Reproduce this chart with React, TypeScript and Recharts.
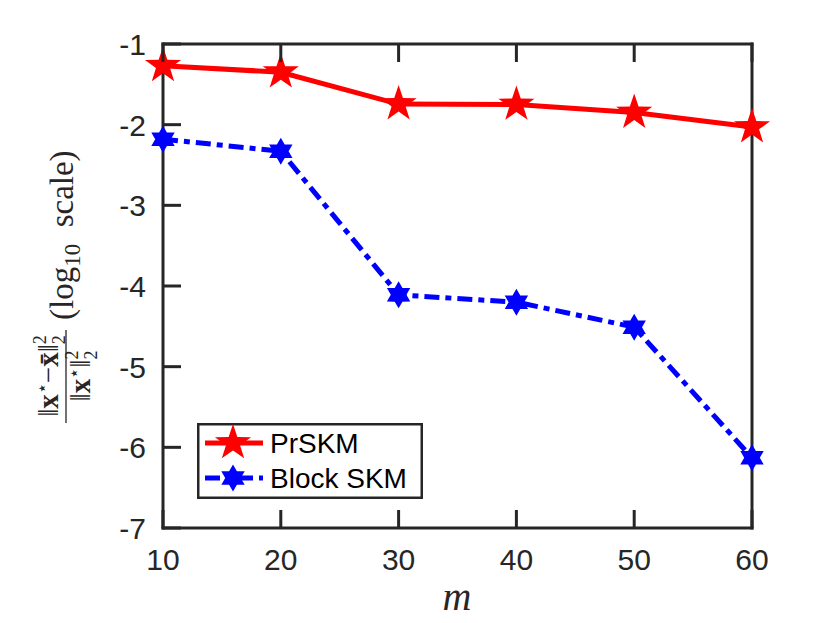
import { Legend, Line, LineChart, XAxis, YAxis } from 'recharts';

const mValues = [10, 20, 30, 40, 50, 60];
const prskmErr = [-1.27, -1.35, -1.745, -1.75, -1.85, -2.03];
const blockSkmErr = [-2.18, -2.33, -4.11, -4.2, -4.51, -6.13];
const xTicks = [10, 20, 30, 40, 50, 60];
const yTicks = [-7, -6, -5, -4, -3, -2, -1];

const data = mValues.map((m, i) => ({
	m,
	prskm: prskmErr[i],
	block: blockSkmErr[i],
}));

const AXIS = '#262626';
const TICK_LEN = 18;
const SANS = "'Liberation Sans', Arial, Helvetica, sans-serif";
const SERIF = "'Liberation Serif', 'Times New Roman', serif";

const series = [
	{ key: 'prskm', name: 'PrSKM', color: '#ff0000', dash: undefined, shape: 'star' },
	{ key: 'block', name: 'Block SKM', color: '#0000ff', dash: '15 6 6 6', shape: 'hexagram' },
];

// n-pointed star polygon, point up
const starPoints = (cx: number, cy: number, n: number, outer: number, inner: number) => {
	const pts: string[] = [];
	for (let i = 0; i < 2 * n; i++) {
		const r = i % 2 === 0 ? outer : inner;
		const a = -Math.PI / 2 + (i * Math.PI) / n;
		pts.push(`${cx + r * Math.cos(a)},${cy + r * Math.sin(a)}`);
	}
	return pts.join(' ');
};

const Marker = ({ cx, cy, shape, color }: any) =>
	shape === 'star' ? (
		<polygon points={starPoints(cx, cy, 5, 19, 7.4)} fill={color} />
	) : (
		<polygon points={starPoints(cx, cy, 6, 13.5, 7.8)} fill={color} />
	);

const BottomTick = ({ x, y, payload }: any) => (
	<g>
		<line x1={x} y1={y} x2={x} y2={y - TICK_LEN} stroke={AXIS} strokeWidth={3} />
		<text x={x} y={y + 42} textAnchor='middle' fontSize={30} fill={AXIS} fontFamily={SANS}>
			{payload.value}
		</text>
	</g>
);

const TopTick = ({ x, y }: any) => (
	<line x1={x} y1={y} x2={x} y2={y + TICK_LEN} stroke={AXIS} strokeWidth={3} />
);

const LeftTick = ({ x, y, payload }: any) => (
	<g>
		<line x1={x} y1={y} x2={x + TICK_LEN} y2={y} stroke={AXIS} strokeWidth={3} />
		<text x={x - 17} y={y + 11} textAnchor='end' fontSize={30} fill={AXIS} fontFamily={SANS}>
			{payload.value}
		</text>
	</g>
);

const RightTick = ({ x, y }: any) => (
	<line x1={x} y1={y} x2={x - TICK_LEN} y2={y} stroke={AXIS} strokeWidth={3} />
);

const YLabel = () => (
	<g transform='rotate(-90)' fill={AXIS} fontFamily={SERIF}>
		<text x={-376} y={58} textAnchor='middle' fontSize={29}>
			‖<tspan fontWeight='bold'>x</tspan>
			<tspan dy={-10} fontSize={18}>⋆</tspan>
			<tspan dy={10}>−</tspan>
			<tspan fontWeight='bold'>x̄</tspan>‖
			<tspan dy={-12} fontSize={18}>2</tspan>
			<tspan dx={-9} dy={19} fontSize={18}>2</tspan>
		</text>
		<line x1={-423} x2={-330} y1={66} y2={66} stroke={AXIS} strokeWidth={1.3} />
		<text x={-376} y={90} textAnchor='middle' fontSize={29}>
			‖<tspan fontWeight='bold'>x</tspan>
			<tspan dy={-10} fontSize={18}>⋆</tspan>
			<tspan dy={10}>‖</tspan>
			<tspan dy={-12} fontSize={18}>2</tspan>
			<tspan dx={-9} dy={19} fontSize={18}>2</tspan>
		</text>
		<text x={-320} y={73} fontSize={33}>
			(log
			<tspan dy={7} fontSize={23}>10</tspan>
			<tspan dy={-7}>{'\u00a0\u00a0scale)'}</tspan>
		</text>
	</g>
);

const XLabel = () => (
	<text x={457} y={610} textAnchor='middle' fontSize={40} fontStyle='italic' fill={AXIS} fontFamily={SERIF}>
		m
	</text>
);

const LegendBox = () => (
	<svg width={226} height={76} style={{ display: 'block' }}>
		<rect x={1.25} y={1.25} width={223.5} height={73.5} fill='#fff' stroke={AXIS} strokeWidth={2.5} />
		{series.map((s, i) => {
			const cy = 20 + i * 35;
			return (
				<g key={s.key}>
					<line x1={8} x2={66} y1={cy} y2={cy} stroke={s.color} strokeWidth={5} strokeDasharray={s.dash} />
					<Marker cx={36} cy={cy} shape={s.shape} color={s.color} />
					<text x={73} y={cy + 10} fontSize={28} fill='#000' fontFamily={SANS}>
						{s.name}
					</text>
				</g>
			);
		})}
	</svg>
);

const axisLine = { stroke: AXIS, strokeWidth: 3, strokeLinecap: 'square' as const };

export default function App() {
	return (
		<div style={{ position: 'absolute', left: 0, top: 0, width: 830, height: 623, background: '#fff' }}>
			<LineChart
				width={830}
				height={623}
				data={data}
				margin={{ top: 43, right: 77, bottom: 35, left: 83 }}
			>
				<XAxis
					dataKey='m'
					type='number'
					domain={[10, 60]}
					ticks={xTicks}
					interval={0}
					height={60}
					tickSize={0}
					tickMargin={0}
					tickLine={false}
					axisLine={axisLine}
					tick={BottomTick}
					label={<XLabel />}
				/>
				<XAxis
					xAxisId='top'
					orientation='top'
					dataKey='m'
					type='number'
					domain={[10, 60]}
					ticks={xTicks}
					interval={0}
					height={1}
					tickSize={0}
					tickMargin={0}
					tickLine={false}
					axisLine={axisLine}
					tick={TopTick}
				/>
				<YAxis
					type='number'
					domain={[-7, -1]}
					ticks={yTicks}
					interval={0}
					width={80}
					tickSize={0}
					tickMargin={0}
					tickLine={false}
					axisLine={axisLine}
					tick={LeftTick}
					label={<YLabel />}
				/>
				<YAxis
					yAxisId='right'
					orientation='right'
					type='number'
					domain={[-7, -1]}
					ticks={yTicks}
					interval={0}
					width={1}
					tickSize={0}
					tickMargin={0}
					tickLine={false}
					axisLine={axisLine}
					tick={RightTick}
				/>
				<Legend
					layout='vertical'
					align='center'
					verticalAlign='middle'
					wrapperStyle={{ left: 197, top: 423, width: 226, height: 76 }}
					content={() => <LegendBox />}
				/>
				{series.map((s) => (
					<Line
						key={s.key}
						type='linear'
						dataKey={s.key}
						name={s.name}
						stroke={s.color}
						strokeWidth={5}
						strokeDasharray={s.dash}
						isAnimationActive={false}
						dot={(p: any) => (
							<Marker key={`${s.key}-${p.index}`} cx={p.cx} cy={p.cy} shape={s.shape} color={s.color} />
						)}
						activeDot={false}
					/>
				))}
			</LineChart>
		</div>
	);
}
